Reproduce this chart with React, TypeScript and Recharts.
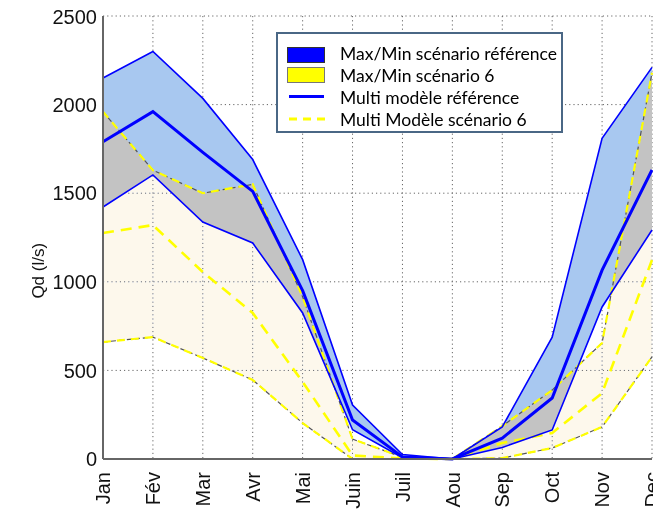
import React from 'react';
import {
  ComposedChart,
  Area,
  Line,
  XAxis,
  YAxis,
  CartesianGrid,
  Legend,
} from 'recharts';

const months = ['Jan', 'Fév', 'Mar', 'Avr', 'Mai', 'Juin', 'Juil', 'Aou', 'Sep', 'Oct', 'Nov', 'Dec'];
const refMax = [2150, 2300, 2035, 1690, 1125, 305, 25, 0, 181, 688, 1810, 2210];
const refMean = [1790, 1960, 1730, 1510, 950, 220, 12, 0, 118, 344, 1066, 1631];
const refMin = [1422, 1603, 1337, 1219, 824, 165, 8, 0, 65, 164, 858, 1292];
const scMax = [1960, 1630, 1500, 1550, 915, 112, 10, 0, 186, 389, 655, 2180];
const scMean = [1275, 1320, 1055, 824, 435, 20, 3, 0, 90, 147, 372, 1123];
const scMin = [660, 688, 570, 446, 203, 0, 0, 0, 5, 62, 181, 576];
const yTicks = [0, 500, 1000, 1500, 2000, 2500];

const data = months.map((m, i) => ({
  month: m,
  refBand: [refMin[i], refMax[i]],
  scBand: [scMin[i], scMax[i]],
  refMax: refMax[i],
  refMean: refMean[i],
  refMin: refMin[i],
  scMax: scMax[i],
  scMean: scMean[i],
  scMin: scMin[i],
}));

const BLUE_FILL = '#a8c8f0';
const CREAM = '#fdf8ec';
const BLUE = '#0000ff';
const YELLOW = '#ffff00';
const FONT = 'Liberation Sans, Arial, sans-serif';

const XTick = (props: any) => {
  const { x, y, payload } = props;
  const ty = y + 11;
  return (
    <text
      x={x}
      y={ty}
      transform={`rotate(-90 ${x} ${ty})`}
      textAnchor="end"
      dy="0.36em"
      fontFamily={FONT}
      fontSize={20}
      fill="#111"
    >
      {payload.value}
    </text>
  );
};

const YTick = (props: any) => {
  const { x, y, payload } = props;
  return (
    <text x={x} y={y} textAnchor="end" dy="0.36em" fontFamily={FONT} fontSize={20} fill="#111">
      {payload.value}
    </text>
  );
};

const YLabel = (props: any) => {
  const { viewBox } = props;
  const cx = (viewBox?.x ?? 0) + 30;
  const cy = (viewBox?.y ?? 0) + (viewBox?.height ?? 0) * 0.575;
  return (
    <text
      x={cx}
      y={cy}
      transform={`rotate(-90 ${cx} ${cy})`}
      textAnchor="middle"
      dy="0.36em"
      fontFamily={FONT}
      fontSize={17}
      fill="#111"
    >
      Qd (l/s)
    </text>
  );
};

const rowText: React.CSSProperties = {
  position: 'absolute',
  left: 62,
  height: 20,
  lineHeight: '20px',
  whiteSpace: 'nowrap',
};

const LegendBox = () => (
  <div
    style={{
      position: 'relative',
      width: 283,
      height: 97,
      border: '2px solid #4a6785',
      background: '#ffffff',
      fontFamily: 'Lato, "Open Sans", sans-serif',
      fontSize: 17.5,
      color: '#000',
      boxSizing: 'content-box',
    }}
  >
    <div style={{ position: 'absolute', left: 9, top: 13, width: 36, height: 14, background: BLUE, border: '1px solid #333' }} />
    <div style={{ ...rowText, top: 10 }}>Max/Min scénario référence</div>
    <div style={{ position: 'absolute', left: 9, top: 33, width: 36, height: 14, background: YELLOW, border: '1px solid #777' }} />
    <div style={{ ...rowText, top: 32 }}>Max/Min scénario 6</div>
    <div style={{ position: 'absolute', left: 11, top: 61, width: 35, height: 3, background: BLUE }} />
    <div style={{ ...rowText, top: 54 }}>Multi modèle référence</div>
    <svg style={{ position: 'absolute', left: 11, top: 83 }} width={36} height={4}>
      <line x1={0} y1={2} x2={36} y2={2} stroke={YELLOW} strokeWidth={3} strokeDasharray="8 6" />
    </svg>
    <div style={{ ...rowText, top: 76 }}>Multi Modèle scénario 6</div>
  </div>
);

export default function App() {
  return (
    <div style={{ position: 'relative', width: 653, height: 503 }}>
      <style>{`
        html, body { overflow: hidden; }
        .blend-sat { mix-blend-mode: saturation; }
        .blend-darken { mix-blend-mode: darken; }
      `}</style>
      <ComposedChart
        width={653}
        height={503}
        data={data}
        margin={{ top: 8, right: 9, left: 0, bottom: 8 }}
      >
        <Area
          dataKey="refBand"
          type="linear"
          fill={BLUE_FILL}
          fillOpacity={1}
          stroke="none"
          isAnimationActive={false}
          activeDot={false}
        />
        <Area
          dataKey="scBand"
          type="linear"
          fill="#ffffff"
          fillOpacity={1}
          stroke="none"
          className="blend-sat"
          isAnimationActive={false}
          activeDot={false}
        />
        <Area
          dataKey="scBand"
          type="linear"
          fill={CREAM}
          fillOpacity={1}
          stroke="none"
          className="blend-darken"
          isAnimationActive={false}
          activeDot={false}
        />
        <CartesianGrid stroke="#666" strokeDasharray="1.2 3" strokeWidth={1} />
        <XAxis
          dataKey="month"
          scale="point"
          padding={{ left: 0, right: 0 }}
          height={44}
          tickLine={false}
          tickSize={0}
          tick={<XTick />}
          axisLine={{ stroke: '#666', strokeWidth: 2 }}
          interval={0}
        />
        <YAxis
          domain={[0, 2500]}
          ticks={yTicks}
          width={95}
          tickLine={false}
          tickSize={0}
          tickMargin={6}
          tick={<YTick />}
          axisLine={{ stroke: '#666', strokeWidth: 2 }}
          label={<YLabel />}
        />
        {/* scenario 6 envelope edges */}
        <Line dataKey="scMax" type="linear" stroke="#555" strokeWidth={1.2} strokeDasharray="5 3" dot={false} activeDot={false} isAnimationActive={false} />
        <Line dataKey="scMax" type="linear" stroke={YELLOW} strokeWidth={2.2} strokeDasharray="8 6" dot={false} activeDot={false} isAnimationActive={false} />
        <Line dataKey="scMin" type="linear" stroke="#555" strokeWidth={1.2} strokeDasharray="5 3" dot={false} activeDot={false} isAnimationActive={false} />
        <Line dataKey="scMin" type="linear" stroke={YELLOW} strokeWidth={2.2} strokeDasharray="8 6" dot={false} activeDot={false} isAnimationActive={false} />
        <Line dataKey="scMean" type="linear" stroke={YELLOW} strokeWidth={2.6} strokeDasharray="11 7" dot={false} activeDot={false} isAnimationActive={false} />
        {/* reference envelope edges and mean */}
        <Line dataKey="refMax" type="linear" stroke={BLUE} strokeWidth={1.6} dot={false} activeDot={false} isAnimationActive={false} />
        <Line dataKey="refMin" type="linear" stroke={BLUE} strokeWidth={1.6} dot={false} activeDot={false} isAnimationActive={false} />
        <Line dataKey="refMean" type="linear" stroke={BLUE} strokeWidth={3} dot={false} activeDot={false} isAnimationActive={false} />
        <Legend
          verticalAlign="middle"
          align="center"
          layout="horizontal"
          content={<LegendBox />}
          wrapperStyle={{ position: 'absolute', left: 268, top: 24, width: 287, height: 101 }}
        />
      </ComposedChart>
    </div>
  );
}
